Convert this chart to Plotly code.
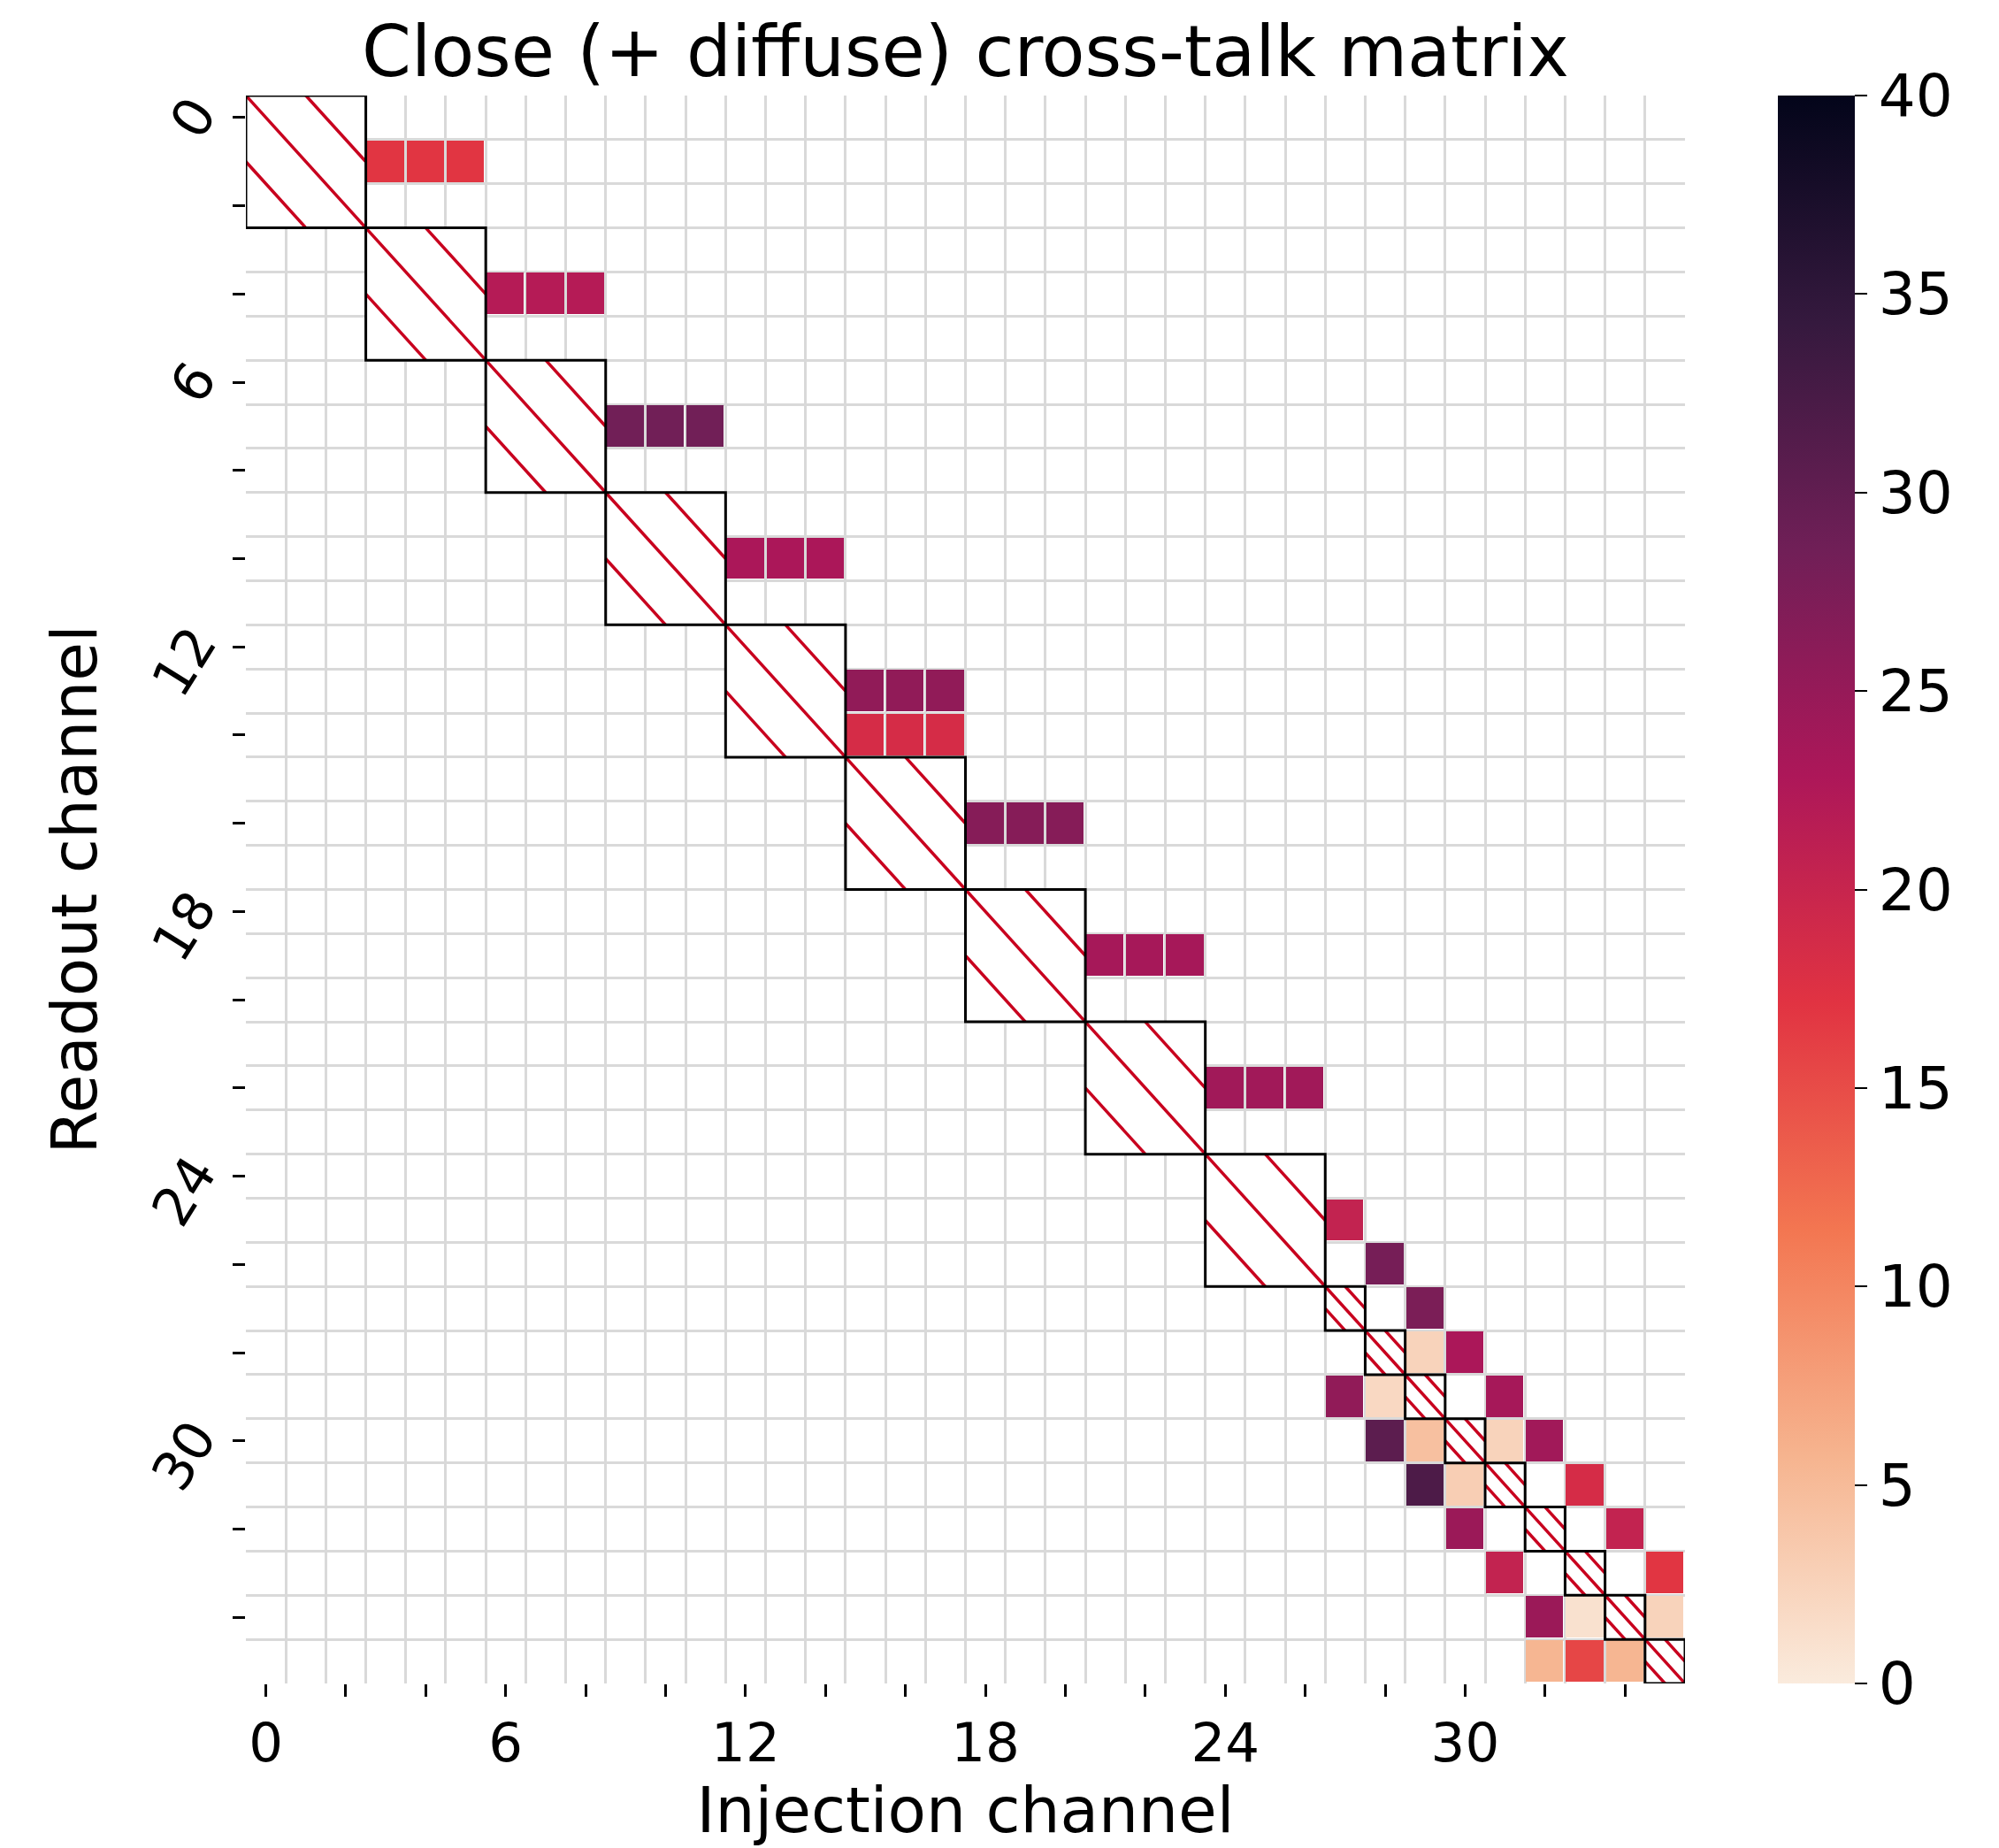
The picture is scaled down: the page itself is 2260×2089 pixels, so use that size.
import plotly.graph_objects as go

# Channel axis (readout rows = injection columns)
n_channels = 36
channels = list(range(n_channels))
tick_positions = list(range(0, n_channels, 2))
tick_labels = [str(c) if c % 6 == 0 else "" for c in tick_positions]

# Self-injection blocks on the diagonal (hatched): first channel and width
diag_start = [0, 3, 6, 9, 12, 15, 18, 21, 24, 27, 28, 29, 30, 31, 32, 33, 34, 35]
diag_size = [3, 3, 3, 3, 3, 3, 3, 3, 3, 1, 1, 1, 1, 1, 1, 1, 1, 1]

# Off-diagonal cross-talk entries (%): readout row, injection column, value
xt_row = [1, 1, 1, 4, 4, 4, 7, 7, 7, 10, 10, 10, 13, 13, 13, 14, 14, 14,
          16, 16, 16, 19, 19, 19, 22, 22, 22,
          25, 26, 27, 28, 28, 29, 29, 29, 30, 30, 30, 30, 31, 31, 31,
          32, 32, 33, 33, 34, 34, 34, 35, 35, 35]
xt_col = [3, 4, 5, 6, 7, 8, 9, 10, 11, 12, 13, 14, 15, 16, 17, 15, 16, 17,
          18, 19, 20, 21, 22, 23, 24, 25, 26,
          27, 28, 29, 29, 30, 27, 28, 31, 28, 29, 31, 32, 29, 30, 33,
          30, 34, 31, 35, 32, 33, 35, 32, 33, 34]
xt_val = [17, 17, 17, 22, 22, 22, 28.5, 28.5, 28.5, 23, 23, 23, 25.5, 25.5, 25.5,
          18.5, 18.5, 18.5, 26.5, 26.5, 26.5, 23.5, 23.5, 23.5, 24, 24, 24,
          20.5, 28, 27.5, 2.5, 23, 25.5, 2, 23.5, 30.5, 4.5, 2.5, 24, 32, 3, 18.5,
          24.5, 20.5, 20.5, 17, 24.5, 1, 2.5, 5.5, 15.5, 5.5]

# Colour range and ticks of the colour bar
z_min, z_max = 0, 40
cbar_ticks = [0, 5, 10, 15, 20, 25, 30, 35, 40]

# seaborn "rocket", reversed (light = 0, dark = 40)
rocket_r = [
    [0.0, "#faebdd"],
    [1 / 7, "#f6b48f"],
    [2 / 7, "#f37651"],
    [3 / 7, "#e13342"],
    [4 / 7, "#ad1759"],
    [5 / 7, "#701f57"],
    [6 / 7, "#35193e"],
    [1.0, "#03051a"],
]

# Build the matrix; empty cells stay None so they are left blank
z = [[None] * n_channels for _ in range(n_channels)]
for r, c, v in zip(xt_row, xt_col, xt_val):
    z[r][c] = v

FONT = "DejaVu Sans"
GRID = "#d9d9d9"
HATCH = "#c8001e"

fig = go.Figure()
fig.add_trace(go.Heatmap(
    x=channels, y=channels, z=z,
    colorscale=rocket_r, zmin=z_min, zmax=z_max,
    xgap=3, ygap=3,
    hoverongaps=False,
    colorbar=dict(
        x=1.0645, xanchor="left", xref="paper",
        y=0.5, yanchor="middle", len=1.0, lenmode="fraction",
        thickness=87, thicknessmode="pixels",
        xpad=0, ypad=0, outlinewidth=0,
        tickvals=cbar_ticks, ticks="outside", ticklen=14, tickwidth=2,
        tickcolor="black",
        tickfont=dict(family=FONT, size=66, color="black"),
    ),
))

# Hatched self-injection blocks: white fill, red '\' hatch, black frame
shapes = []
for s, w in zip(diag_start, diag_size):
    x0, x1 = s - 0.5, s - 0.5 + w
    y0, y1 = s - 0.5, s - 0.5 + w
    h = w / 2
    shapes.append(dict(type="rect", xref="x", yref="y", x0=x0, x1=x1, y0=y0, y1=y1,
                       fillcolor="white", line=dict(width=0), layer="above"))
    for (ax, ay, bx, by) in [(x0, y0, x1, y1), (x0 + h, y0, x1, y0 + h), (x0, y0 + h, x0 + h, y1)]:
        shapes.append(dict(type="line", xref="x", yref="y", x0=ax, y0=ay, x1=bx, y1=by,
                           line=dict(color=HATCH, width=3.5), layer="above"))
    shapes.append(dict(type="rect", xref="x", yref="y", x0=x0, x1=x1, y0=y0, y1=y1,
                       fillcolor="rgba(0,0,0,0)", line=dict(color="black", width=3),
                       layer="above"))

cell_edges = [c - 0.5 for c in range(n_channels + 1)]
axis_common = dict(
    tickmode="array", tickvals=tick_positions, ticktext=tick_labels,
    ticks="outside", ticklen=14, tickwidth=3, tickcolor="black",
    tickfont=dict(family=FONT, size=61, color="black"),
    showgrid=False, zeroline=False, showline=False,
    minor=dict(tickmode="array", tickvals=cell_edges, showgrid=True,
               gridcolor=GRID, gridwidth=3, ticks=""),
)

fig.update_layout(
    width=2260, height=2089,
    margin=dict(l=278, r=355, t=108, b=186),
    paper_bgcolor="white", plot_bgcolor="white",
    font=dict(family=FONT, color="black"),
    title=dict(text="Close (+ diffuse) cross-talk matrix",
               font=dict(family=FONT, size=80, color="black"),
               x=0.5, xref="paper", xanchor="center",
               y=1 - 58 / 2089, yref="container", yanchor="middle"),
    xaxis=dict(**axis_common, range=[-0.5, n_channels - 0.5],
               title=dict(text="Injection channel", standoff=10,
                          font=dict(family=FONT, size=71, color="black"))),
    yaxis=dict(**axis_common, range=[n_channels - 0.5, -0.5],
               tickangle=-58, ticklabelstandoff=30, ticklabelshift=12,
               title=dict(text="Readout channel", standoff=24,
                          font=dict(family=FONT, size=71, color="black"))),
    shapes=shapes,
)

fig.write_html("out.html")
